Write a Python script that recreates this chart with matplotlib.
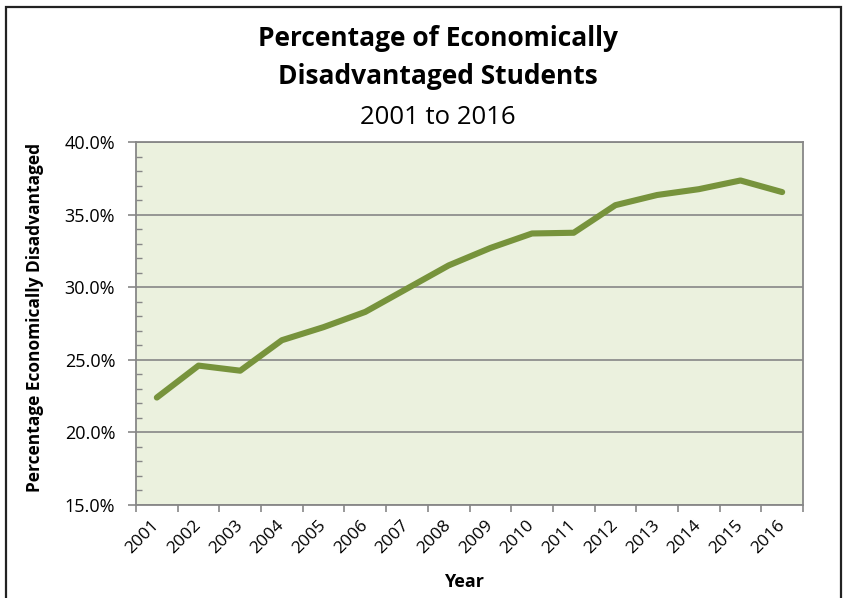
import numpy as np
import matplotlib.pyplot as plt
from matplotlib.patches import Rectangle
from matplotlib.ticker import MultipleLocator, FuncFormatter

years = ['2001', '2002', '2003', '2004', '2005', '2006', '2007', '2008',
         '2009', '2010', '2011', '2012', '2013', '2014', '2015', '2016']
pct = [22.4, 24.6, 24.25, 26.35, 27.25, 28.3, 29.9, 31.5,
       32.7, 33.7, 33.75, 35.65, 36.35, 36.75, 37.35, 36.55]

LINE_CLR = '#77933C'
BG_CLR = '#EBF1DE'
GRID_CLR = '#878787'

plt.rcParams['font.family'] = ['Open Sans', 'DejaVu Sans']

fig = plt.figure(figsize=(8.46, 5.98), dpi=100)
ax = fig.add_axes([136 / 846, 93 / 598, 667 / 846, 363 / 598])

# outer chart frame (bottom edge falls outside the image)
fig.patches.append(Rectangle((6 / 846, -0.05), 835 / 846, 1.05 - 7 / 598,
                             transform=fig.transFigure, fill=False,
                             edgecolor='#222222', linewidth=1.6))

x = np.arange(len(years))
ax.plot(x, pct, color=LINE_CLR, linewidth=4.4, solid_capstyle='round',
        solid_joinstyle='round', zorder=3)

ax.set_facecolor(BG_CLR)
ax.set_xlim(-0.5, len(years) - 0.5)
ax.set_ylim(15, 40)

ax.yaxis.set_major_locator(MultipleLocator(5))
ax.yaxis.set_minor_locator(MultipleLocator(1))
ax.yaxis.set_major_formatter(FuncFormatter(lambda v, p: f'{v:.1f}%'))
ax.grid(axis='y', which='major', color=GRID_CLR, linewidth=1.2)
ax.set_axisbelow(True)

# ticks on category boundaries, labels at centres
ax.set_xticks(np.arange(len(years) + 1) - 0.5)
ax.set_xticklabels([])
ax.set_xticks(x, minor=True)
ax.set_xticklabels(years, minor=True, rotation=45, ha='right', va='center',
                   rotation_mode='anchor', fontsize=12.5)
ax.tick_params(axis='x', which='minor', length=0, pad=13)
ax.tick_params(axis='x', which='major', direction='out', length=5,
               color=GRID_CLR, width=1.2)
ax.tick_params(axis='y', which='major', direction='out', length=6,
               color=GRID_CLR, width=1.2, labelsize=13, pad=9)
ax.tick_params(axis='y', which='minor', direction='in', length=4,
               color=GRID_CLR, width=1.0)

for s in ax.spines.values():
    s.set_color(GRID_CLR)
    s.set_linewidth(1.3)

ax.set_ylabel('Percentage Economically Disadvantaged', fontsize=12.5,
              fontweight='bold')
ax.yaxis.set_label_coords((44 - 136) / 667, (505 - 317) / 363)
ax.set_xlabel('Year', fontsize=13, fontweight='bold')
ax.xaxis.set_label_coords((464 - 136) / 667, (505 - 573) / 363)

tx = 438 / 846
fig.text(tx, 1 - 46 / 598, 'Percentage of Economically', ha='center',
         va='baseline', fontsize=19, fontweight='bold')
fig.text(tx, 1 - 84 / 598, 'Disadvantaged Students', ha='center',
         va='baseline', fontsize=19, fontweight='bold')
fig.text(tx, 1 - 124 / 598, '2001 to 2016', ha='center', va='baseline',
         fontsize=18.5)

fig.savefig('out.png', dpi=100)
